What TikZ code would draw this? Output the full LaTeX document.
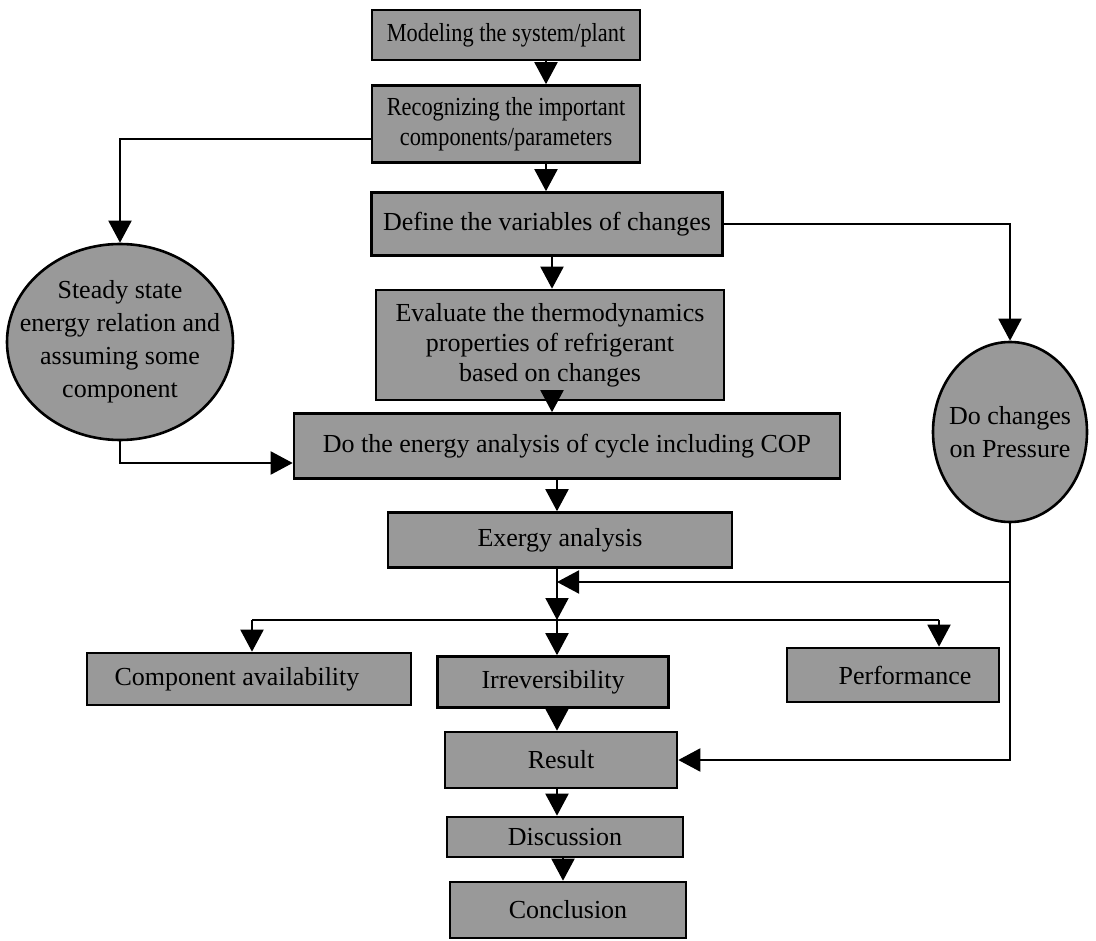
\documentclass[tikz,border=0pt]{standalone}
\usepackage{graphicx}
\usepackage{fontspec}
\setmainfont{Liberation Serif}
\usetikzlibrary{shapes,arrows.meta}

\newcommand{\narrowtext}[1]{\scalebox{0.86}[1]{#1}}

\begin{document}
\begin{tikzpicture}[x=1pt,y=-1pt,every node/.style={draw,line width=2.6pt,fill=black!40,align=center,inner sep=0pt,font=\fontsize{26}{30}\selectfont},
  box/.style={shape=rectangle},
  blob/.style={shape=ellipse,inner sep=-24pt,font=\fontsize{26}{33}\selectfont}]

  \useasboundingbox (0,0) rectangle (1096,941);

  % Specification of nodes (position, size)
  \node[box,minimum width=268pt,minimum height=50pt] (model) at (506,35) {\narrowtext{Modeling the system/plant}};
  \node[box,minimum width=268pt,minimum height=77pt] (recog) at (506,124) {\narrowtext{Recognizing the important}\\\narrowtext{components/parameters}};
  \node[box,minimum width=351pt,minimum height=63pt] (define) at (547,224) {Define the variables of changes};
  \node[box,minimum width=348pt,minimum height=110pt] (eval) at (550,345) {Evaluate the thermodynamics\\properties of refrigerant\\based on changes};
  \node[box,minimum width=546pt,minimum height=65pt] (energy) at (567,446) {Do the energy analysis of cycle including COP};
  \node[box,minimum width=344pt,minimum height=55pt] (exergy) at (560,540) {Exergy analysis};
  \node[box,minimum width=324pt,minimum height=52pt] (comp) at (249,679) {Component availability\hspace{24pt}};
  \node[box,minimum width=231pt,minimum height=51pt] (irrev) at (553,682) {Irreversibility};
  \node[box,minimum width=212pt,minimum height=54pt] (perf) at (893,675) {\hspace{24pt}Performance};
  \node[box,minimum width=232pt,minimum height=56pt] (result) at (561,760) {Result};
  \node[box,minimum width=236pt,minimum height=40pt] (disc) at (565,837) {Discussion};
  \node[box,minimum width=236pt,minimum height=56pt] (concl) at (568,910) {Conclusion};
  \node[blob,minimum width=226pt,minimum height=196pt] (steady) at (120,342) {Steady state\\energy relation and\\assuming some\\component};
  \node[blob,minimum width=154pt,minimum height=180pt] (press) at (1010,432) {Do changes\\on Pressure};

  % x positions of the vertical runs
  \coordinate (xtop) at (546,0);
  \coordinate (xmid) at (552,0);
  \coordinate (xlow) at (557,0);
  \coordinate (xend) at (563,0);
  \coordinate (ytap) at (0,139);
  \coordinate (yin) at (0,463);
  \coordinate (merge) at (1010,582);
  \coordinate (fork) at (557,620);
  \coordinate (forkL) at (252,620);
  \coordinate (forkR) at (939,620);

  \begin{scope}[line width=2pt,-{Triangle[width=23pt,length=22pt]}]
    \draw (model.south -| xtop) to (recog.north -| xtop);
    \draw (recog.south -| xtop) to (define.north -| xtop);
    \draw (recog.west |- ytap) -| (steady.north);
    \draw (define.east) -| (press.north);
    \draw (define.south -| xmid) to (eval.north -| xmid);
    \draw (eval.south -| xmid) to (energy.north -| xmid);
    \draw (steady.south) |- (energy.west |- yin);
    \draw (energy.south -| xlow) to (exergy.north -| xlow);
    \draw (exergy.south -| xlow) to (fork);
    \draw (press.south) |- (result.east);
    \draw (merge) to (merge -| xlow);
    \draw[-] (forkL) to (forkR);
    \draw (forkL) to (comp.north -| forkL);
    \draw (fork) to (irrev.north -| fork);
    \draw (forkR) to (perf.north -| forkR);
    \draw (irrev.south -| xlow) to (result.north -| xlow);
    \draw (result.south -| xlow) to (disc.north -| xlow);
    \draw (disc.south -| xend) to (concl.north -| xend);
  \end{scope}

\end{tikzpicture}
\end{document}
